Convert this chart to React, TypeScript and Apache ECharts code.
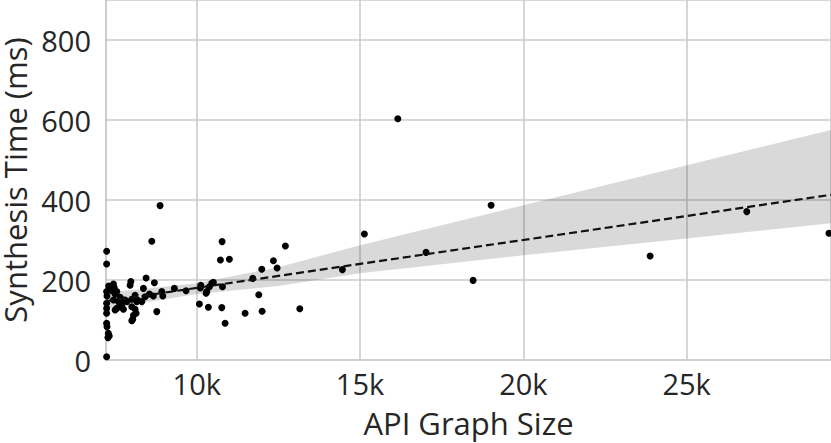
import React, { useEffect, useRef } from "react";
import * as echarts from "echarts";

// Scatter points: API graph size vs synthesis time (ms)
const pointX = [
  7240, 7240, 7240, 7250, 7240, 7240, 7240, 7240, 7250, 7290, 7320, 7280, 7240,
  7300, 7400, 7447, 7470, 7498, 7447, 7550, 7600, 7651, 7498, 7550, 7702, 7753,
  7753, 7804, 7857, 7958, 7980, 8010, 8010, 8111, 8111, 8142, 8163, 8061, 8040,
  8010, 8183, 8316, 8366, 8417, 8448, 8550, 8672, 8702, 8775, 8622, 8876, 8929,
  8959, 9314, 9672,
  10080, 10122, 10110, 10285, 10306, 10355, 10386, 10459, 10508, 10765, 10786,
  10867, 10775, 10723, 10998, 11479, 11714, 11898, 11990, 12000, 12346, 12459,
  12713, 13154,
  14459, 15132, 16155, 17020, 18461, 19012, 23881, 26841, 29357,
];
const pointY = [
  272, 240, 171, 160, 142, 129, 117, 92, 83, 67, 60, 56, 8,
  185, 173, 190, 181, 165, 150, 171, 146, 157, 125, 129, 135, 127,
  150, 150, 146, 187, 196, 152, 133, 162, 127, 117, 146, 112, 102,
  98, 150, 146, 179, 158, 205, 165, 160, 193, 121, 297, 386, 171,
  160, 179, 173,
  140, 187, 180, 167, 171, 132, 183, 192, 194, 131, 183,
  92, 296, 250, 252, 117, 204, 163, 227, 122, 248, 230,
  285, 128,
  226, 315, 603, 269, 199, 387, 260, 371, 317,
];

// Regression line end points
const regX = [7220, 29420];
const regY = [147, 413];

// Confidence band read at a few x positions
const bandX = [7220, 10000, 12500, 15000, 20000, 25000, 29420];
const bandUpper = [168, 192, 232, 287, 387, 487, 575];
const bandLower = [128, 165, 185, 217, 262, 304, 342];

// Axis settings
const xMin = 7220;
const xMax = 29420;
const yMin = 0;
const yMax = 900;
const yStep = 200;
const xStep = 5000;

const FONT = "'Open Sans', 'Noto Sans', sans-serif";
const TEXT = "#262626";
const GRID = "#cccccc";

export default function App() {
  const ref = useRef<HTMLDivElement>(null);

  useEffect(() => {
    if (!ref.current) return;
    const chart = echarts.init(ref.current, undefined, { renderer: "svg" });
    const scatterData = pointX.map((x, i) => [x, pointY[i]]);
    const lineData = regX.map((x, i) => [x, regY[i]]);

    chart.setOption({
      animation: false,
      backgroundColor: "#ffffff",
      textStyle: { fontFamily: FONT },
      grid: {
        left: 106,
        right: 0,
        top: 0,
        bottom: 83,
        containLabel: false,
        outerBoundsMode: "none",
      },
      xAxis: {
        type: "value",
        min: xMin,
        max: xMax,
        minInterval: xStep,
        maxInterval: xStep,
        name: "API Graph Size",
        nameLocation: "middle",
        nameGap: 47,
        nameTextStyle: { fontSize: 31, color: TEXT, fontFamily: FONT },
        axisLine: { show: true, lineStyle: { color: GRID, width: 1.6 } },
        axisTick: { show: false },
        axisLabel: {
          fontSize: 29,
          color: TEXT,
          fontFamily: FONT,
          margin: 9,
          showMinLabel: false,
          showMaxLabel: false,
          formatter: (v: number) => `${Math.round(v / 1000)}k`,
        },
        splitLine: { show: true, lineStyle: { color: GRID, width: 1.6 } },
      },
      yAxis: {
        type: "value",
        min: yMin,
        max: yMax,
        interval: yStep,
        name: "Synthesis Time (ms)",
        nameLocation: "middle",
        nameGap: 73,
        nameTextStyle: { fontSize: 31, lineHeight: 30, color: TEXT, fontFamily: FONT },
        axisLine: { show: true, lineStyle: { color: GRID, width: 1.6 } },
        axisTick: { show: false },
        axisLabel: {
          fontSize: 29,
          color: TEXT,
          fontFamily: FONT,
          margin: 15,
          showMaxLabel: false,
        },
        splitLine: { show: true, lineStyle: { color: GRID, width: 1.6 } },
      },
      series: [
        {
          type: "scatter",
          data: scatterData,
          symbolSize: 7,
          itemStyle: { color: "#000000", opacity: 1 },
          silent: true,
          z: 3,
        },
        {
          type: "custom",
          data: [[bandX[0], bandLower[0]]],
          silent: true,
          z: 2,
          clip: true,
          renderItem: (_params: any, api: any) => {
            const pts: number[][] = [];
            for (let i = 0; i < bandX.length; i++) pts.push(api.coord([bandX[i], bandUpper[i]]));
            for (let i = bandX.length - 1; i >= 0; i--) pts.push(api.coord([bandX[i], bandLower[i]]));
            return {
              type: "polygon",
              shape: { points: pts },
              style: { fill: "rgba(0,0,0,0.15)", stroke: "none" },
            };
          },
        },
        {
          type: "line",
          data: lineData,
          symbol: "none",
          silent: true,
          z: 4,
          lineStyle: { color: "#111111", width: 2.2, type: [8, 4] },
        },
      ],
    });

    return () => chart.dispose();
  }, []);

  return (
    <div
      ref={ref}
      style={{ position: "fixed", left: 0, top: 0, width: 831, height: 443 }}
    />
  );
}
